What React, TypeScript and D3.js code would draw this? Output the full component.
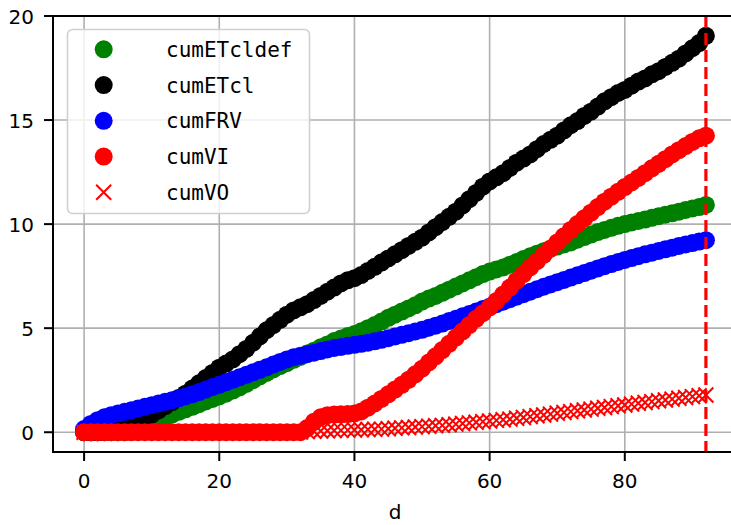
import React from "react";
import * as d3 from "d3";

const days: number[] = Array.from({ length: 93 }, (_, i) => i);

const cumETcldef: number[] = [
  0, 0, 0, 0, 0, 0, 0, 0.02, 0.1, 0.25,
  0.4, 0.55, 0.7, 0.85, 0.98, 1.1, 1.22, 1.35, 1.48, 1.6,
  1.72, 1.85, 2.0, 2.15, 2.32, 2.5, 2.68, 2.85, 3.02, 3.18,
  3.32, 3.48, 3.62, 3.78, 3.92, 4.08, 4.22, 4.38, 4.5, 4.62,
  4.72, 4.85, 5.0, 5.15, 5.32, 5.5, 5.65, 5.8, 5.95, 6.1,
  6.28, 6.42, 6.55, 6.7, 6.85, 7.0, 7.15, 7.3, 7.45, 7.6,
  7.72, 7.82, 7.92, 8.05, 8.18, 8.32, 8.45, 8.58, 8.7, 8.82,
  8.92, 9.02, 9.12, 9.25, 9.38, 9.5, 9.62, 9.72, 9.82, 9.92,
  10.0, 10.08, 10.15, 10.22, 10.3, 10.38, 10.45, 10.52, 10.6, 10.68,
  10.75, 10.82, 10.92,
];

const cumETcl: number[] = [
  0, 0, 0, 0.02, 0.08, 0.15, 0.25, 0.38, 0.5, 0.65,
  0.85, 1.05, 1.25, 1.45, 1.65, 1.85, 2.1, 2.35, 2.6, 2.85,
  3.1, 3.3, 3.5, 3.75, 4.0, 4.3, 4.6, 4.9, 5.15, 5.4,
  5.65, 5.85, 6.0, 6.15, 6.35, 6.55, 6.75, 6.95, 7.15, 7.3,
  7.4, 7.55, 7.75, 7.95, 8.15, 8.35, 8.55, 8.75, 8.95, 9.15,
  9.35, 9.6, 9.85, 10.1, 10.35, 10.6, 10.9, 11.2, 11.5, 11.8,
  12.05, 12.25, 12.45, 12.7, 12.95, 13.15, 13.35, 13.6, 13.85, 14.05,
  14.25, 14.5, 14.75, 14.95, 15.2, 15.4, 15.65, 15.9, 16.1, 16.3,
  16.45, 16.65, 16.85, 17.0, 17.2, 17.35, 17.55, 17.75, 17.95, 18.2,
  18.45, 18.7, 19.05,
];

const cumFRV: number[] = [
  0.15, 0.4, 0.58, 0.72, 0.82, 0.9, 0.98, 1.06, 1.14, 1.22,
  1.3, 1.38, 1.46, 1.54, 1.63, 1.72, 1.82, 1.93, 2.05, 2.17,
  2.28, 2.4, 2.52, 2.64, 2.76, 2.88, 3.0, 3.12, 3.25, 3.38,
  3.5, 3.6, 3.68, 3.75, 3.82, 3.9, 3.98, 4.05, 4.1, 4.15,
  4.2, 4.25, 4.3, 4.37, 4.44, 4.52, 4.6, 4.68, 4.76, 4.84,
  4.92, 5.02, 5.12, 5.22, 5.34, 5.45, 5.57, 5.68, 5.8, 5.92,
  6.03, 6.15, 6.27, 6.39, 6.51, 6.63, 6.75, 6.87, 6.99, 7.1,
  7.21, 7.32, 7.43, 7.54, 7.65, 7.76, 7.87, 7.98, 8.08, 8.18,
  8.28, 8.37, 8.46, 8.55, 8.63, 8.71, 8.79, 8.87, 8.95, 9.02,
  9.09, 9.16, 9.23,
];

const cumVI: number[] = [
  0, 0, 0, 0, 0, 0, 0, 0, 0, 0,
  0, 0, 0, 0, 0, 0, 0, 0, 0, 0,
  0, 0, 0, 0, 0, 0, 0, 0, 0, 0,
  0, 0, 0, 0.2, 0.5, 0.72, 0.82, 0.85, 0.86, 0.87,
  0.9, 1.0, 1.18, 1.38, 1.6, 1.82, 2.05, 2.28, 2.52, 2.78,
  3.05, 3.35, 3.65, 3.95, 4.25, 4.55, 4.85, 5.15, 5.45, 5.72,
  6.0, 6.3, 6.62, 6.95, 7.28, 7.6, 7.92, 8.22, 8.52, 8.82,
  9.12, 9.42, 9.72, 10.0, 10.28, 10.55, 10.82, 11.08, 11.32, 11.55,
  11.78, 12.0, 12.22, 12.45, 12.68, 12.9, 13.12, 13.35, 13.55, 13.75,
  13.95, 14.12, 14.25,
];

const cumVO: number[] = [
  0, 0, 0, 0, 0, 0, 0, 0, 0, 0,
  0, 0, 0, 0, 0, 0, 0, 0, 0, 0,
  0, 0, 0, 0, 0, 0, 0, 0, 0, 0,
  0, 0, 0.01, 0.03, 0.05, 0.06, 0.07, 0.08, 0.09, 0.1,
  0.11, 0.12, 0.13, 0.14, 0.15, 0.17, 0.19, 0.21, 0.23, 0.25,
  0.27, 0.29, 0.31, 0.33, 0.36, 0.39, 0.42, 0.45, 0.48, 0.51,
  0.54, 0.57, 0.6, 0.63, 0.67, 0.71, 0.75, 0.79, 0.83, 0.87,
  0.91, 0.95, 0.99, 1.03, 1.07, 1.11, 1.15, 1.19, 1.23, 1.27,
  1.31, 1.35, 1.39, 1.43, 1.47, 1.51, 1.55, 1.59, 1.63, 1.67,
  1.71, 1.75, 1.79,
];

const seriesNames: string[] = ["cumETcldef", "cumETcl", "cumFRV", "cumVI", "cumVO"];
const seriesColors: string[] = ["#008000", "#000000", "#0000ff", "#ff0000", "#ff0000"];
const seriesMarkers: string[] = ["o", "o", "o", "o", "x"];
const seriesValues: number[][] = [cumETcldef, cumETcl, cumFRV, cumVI, cumVO];

const xTicks: number[] = [0, 20, 40, 60, 80];
const yTicks: number[] = [0, 5, 10, 15, 20];
const vLineX = 92;
const xLabel = "d";

const W = 731;
const H = 525;
const MONO = "'DejaVu Sans Mono', 'Liberation Mono', monospace";
const SANS = "'DejaVu Sans', 'Liberation Sans', sans-serif";

export default function App() {
  const left = 53, top = 16, bottom = 452, right = 737;
  const x = d3.scaleLinear().domain([-4.6, 96.6]).range([left, right]);
  const y = d3.scaleLinear().domain([-0.95, 20]).range([bottom, top]);
  const r = 9;
  const xs = 7.5;

  const legendX = 67.5, legendY = 29.5, legendW = 242, legendH = 184;
  const rowY = (i: number) => 49.3 + i * 35.75;

  const marker = (m: string, cx: number, cy: number, color: string, key: string) =>
    m === "o" ? (
      <circle key={key} cx={cx} cy={cy} r={r} fill={color} />
    ) : (
      <path
        key={key}
        d={`M${cx - xs},${cy - xs}L${cx + xs},${cy + xs}M${cx - xs},${cy + xs}L${cx + xs},${cy - xs}`}
        stroke={color}
        strokeWidth={2}
        fill="none"
      />
    );

  return (
    <svg
      width={W}
      height={H}
      style={{ position: "absolute", left: 0, top: 0, background: "#fff" }}
    >
      <rect x={0} y={0} width={W} height={H} fill="#fff" />
      <defs>
        <clipPath id="ax">
          <rect x={left} y={top} width={right - left} height={bottom - top} />
        </clipPath>
      </defs>
      {/* grid */}
      <g stroke="#b0b0b0" strokeWidth={1.6}>
        {xTicks.map((t) => (
          <line key={"gx" + t} x1={x(t)} x2={x(t)} y1={top} y2={bottom} />
        ))}
        {yTicks.map((t) => (
          <line key={"gy" + t} x1={left} x2={right} y1={y(t)} y2={y(t)} />
        ))}
      </g>
      {/* series */}
      <g clipPath="url(#ax)">
        {seriesValues.map((vals, si) => (
          <g key={"s" + si}>
            {vals.map((v, i) =>
              marker(seriesMarkers[si], x(days[i]), y(v), seriesColors[si], `m${si}-${i}`)
            )}
          </g>
        ))}
        <line
          x1={x(vLineX)}
          x2={x(vLineX)}
          y1={top}
          y2={bottom}
          stroke="#ff0000"
          strokeWidth={3.2}
          strokeDasharray="12,5"
        />
      </g>
      {/* spines */}
      <g stroke="#000" strokeWidth={2} fill="none">
        <line x1={left} x2={left} y1={top - 1} y2={bottom + 1} />
        <line x1={left} x2={right} y1={bottom} y2={bottom} />
        <line x1={left} x2={right} y1={top} y2={top} />
      </g>
      {/* ticks */}
      <g stroke="#000" strokeWidth={2}>
        {xTicks.map((t) => (
          <line key={"tx" + t} x1={x(t)} x2={x(t)} y1={bottom} y2={bottom + 9} />
        ))}
        {yTicks.map((t) => (
          <line key={"ty" + t} x1={left - 9} x2={left} y1={y(t)} y2={y(t)} />
        ))}
      </g>
      <g fontSize={20} fill="#000" fontFamily={SANS}>
        {xTicks.map((t) => (
          <text key={"lx" + t} x={x(t)} y={488} textAnchor="middle">
            {t}
          </text>
        ))}
        {yTicks.map((t) => (
          <text key={"ly" + t} x={34} y={y(t) + 7.5} textAnchor="end">
            {t}
          </text>
        ))}
        <text x={(left + right) / 2} y={519} textAnchor="middle">
          {xLabel}
        </text>
      </g>
      {/* legend */}
      <rect
        x={legendX}
        y={legendY}
        width={legendW}
        height={legendH}
        rx={5}
        fill="#fff"
        fillOpacity={0.8}
        stroke="#d0d0d0"
        strokeWidth={1.6}
      />
      {seriesNames.map((name, i) => (
        <g key={"lg" + i}>
          {marker(seriesMarkers[i], 103.7, rowY(i), seriesColors[i], "lm" + i)}
          <text x={166} y={rowY(i) + 7.5} fontSize={21} fill="#000" fontFamily={MONO}>
            {name}
          </text>
        </g>
      ))}
    </svg>
  );
}
